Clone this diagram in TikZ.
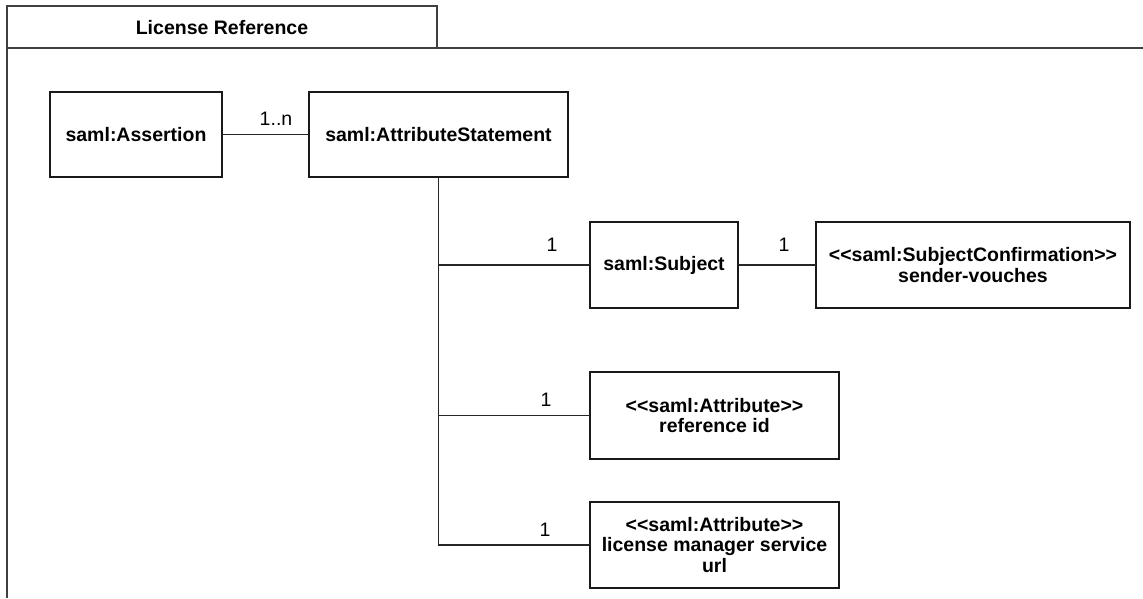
\documentclass[tikz,border=0pt]{standalone}
\usepackage{fontspec}
\setmainfont{Liberation Sans}
\begin{document}
\begin{tikzpicture}[x=1pt, y=-1pt,
  every node/.style={font=\fontsize{19.5}{20.5}\selectfont},
  frameline/.style={draw=black!75, line width=2pt},
  classbox/.style={draw=black!90, line width=1.8pt, fill=white, align=center,
    font=\fontsize{19.5}{20.5}\selectfont\bfseries, inner sep=2pt, outer sep=0pt},
  assoc/.style={draw=black!85, line width=1.3pt},
  mult/.style={inner sep=0pt, font=\fontsize{19.5}{20.5}\selectfont}]
\useasboundingbox (0,0) rectangle (1143,598);

% package frame with its name tab
\draw[frameline] (7,598) -- (7,6) -- (437,6) -- (437,48);
\draw[frameline] (7,48) -- (1143,48);
\node[font=\fontsize{19.5}{20.5}\selectfont\bfseries] (title) at (222,28) {License Reference};

% classes
\node[classbox, minimum width=172pt, minimum height=85pt] (assertion) at (136,134.5) {saml:Assertion};
\node[classbox, minimum width=259pt, minimum height=85pt] (stmt) at (438.5,134.5) {saml:AttributeStatement};
\node[classbox, minimum width=148pt, minimum height=86pt] (subj) at (664,265) {saml:Subject};
\node[classbox, minimum width=314pt, minimum height=86pt] (conf) at (973,265)
  {<\kern0pt<saml:SubjectConfirmation>\kern0pt>\\sender-vouches};
\node[classbox, minimum width=249pt, minimum height=87pt] (refid) at (714.5,415.5)
  {<\kern0pt<saml:Attribute>\kern0pt>\\reference id};
\node[classbox, minimum width=249pt, minimum height=86pt] (lic) at (714.5,545)
  {<\kern0pt<saml:Attribute>\kern0pt>\\license manager service\\url};

% associations
\draw[assoc] (assertion.east) -- (stmt.west);
\draw[assoc] (stmt.south) |- (lic.west);
\draw[assoc] (stmt.south |- subj.west) -- (subj.west);
\draw[assoc] (stmt.south |- refid.west) -- (refid.west);
\draw[assoc] (subj.east) -- (conf.west);

% multiplicities
\node[mult] (m1) at (276,119) {1..n};
\node[mult] (m2) at (552,245) {1};
\node[mult] (m3) at (784,245) {1};
\node[mult] (m4) at (546,400) {1};
\node[mult] (m5) at (545,530) {1};
\end{tikzpicture}
\end{document}
